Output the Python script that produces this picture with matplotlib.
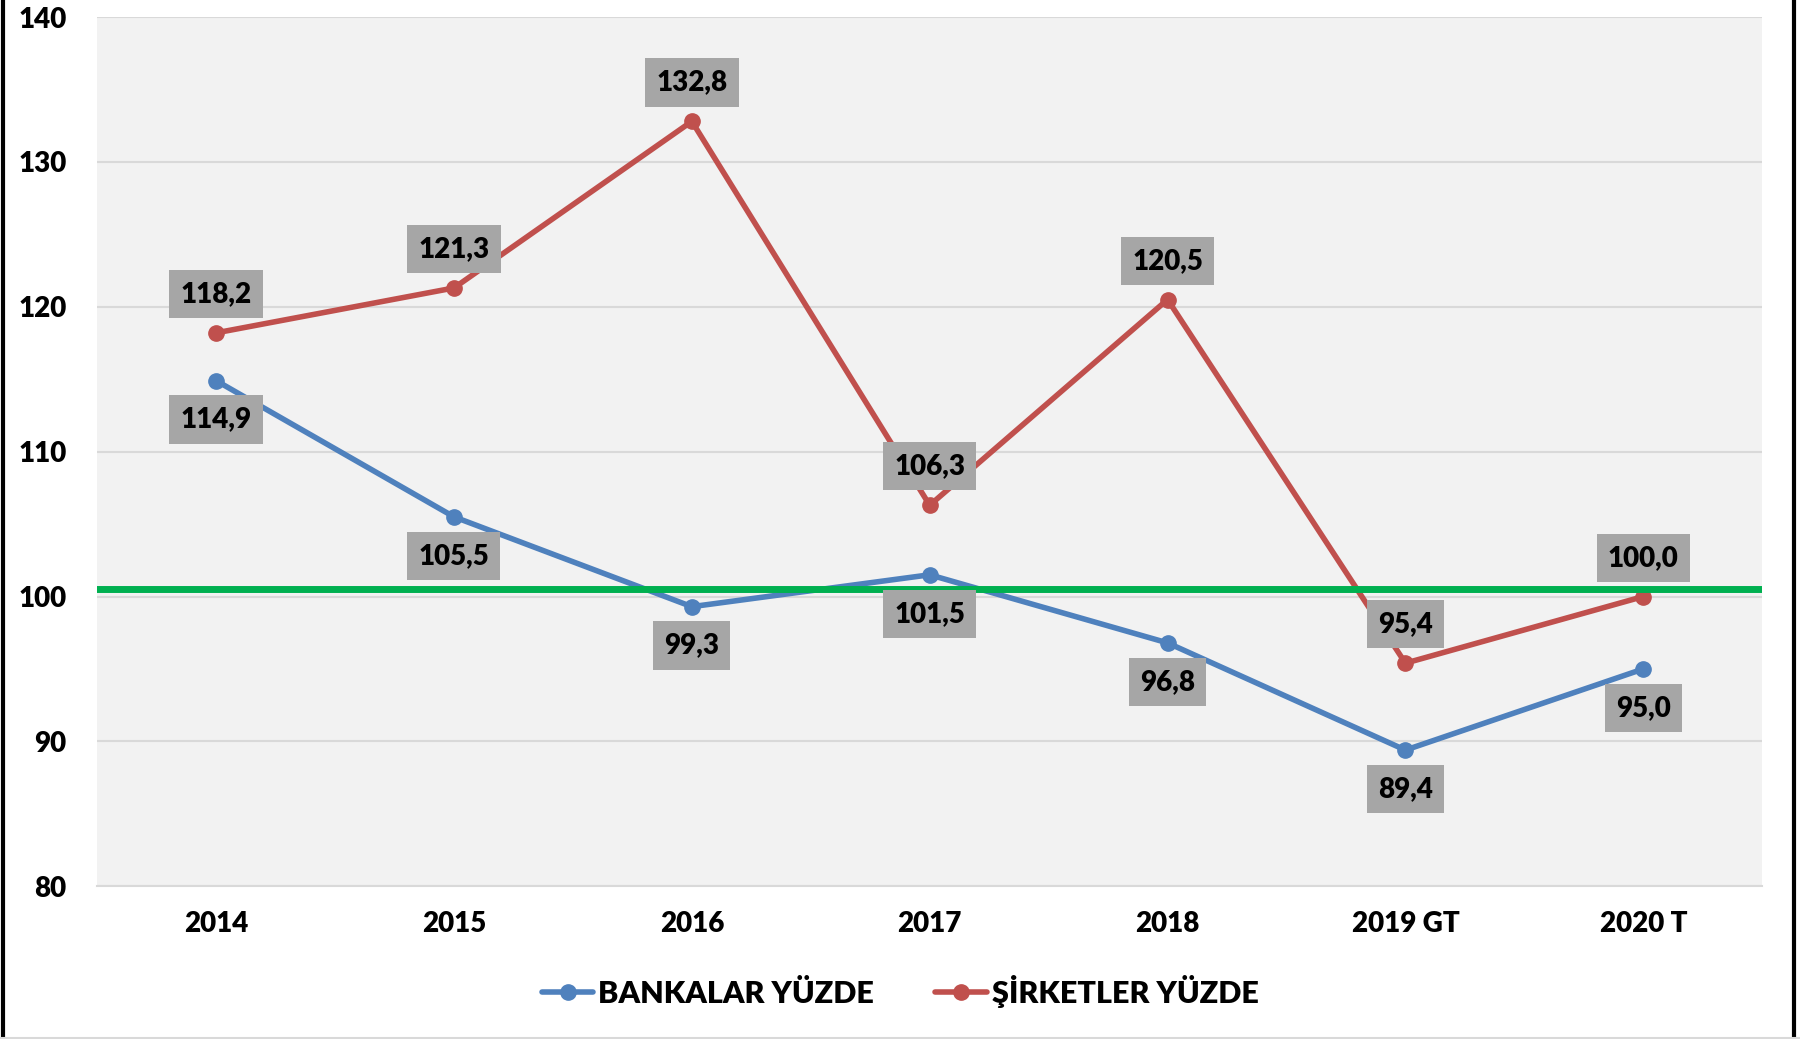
import matplotlib.pyplot as plt
from matplotlib.lines import Line2D

# chart data
years = ["2014", "2015", "2016", "2017", "2018", "2019 GT", "2020 T"]
bankalar = [114.9, 105.5, 99.3, 101.5, 96.8, 89.4, 95.0]
sirketler = [118.2, 121.3, 132.8, 106.3, 120.5, 95.4, 100.0]
ref_level = 100.55
y_ticks = [80, 90, 100, 110, 120, 130, 140]

BLUE = "#4F81BD"
RED = "#C0504D"
GREEN = "#00B050"
WEIGHT = "heavy"

plt.rcParams["font.family"] = ["Lato", "DejaVu Sans"]
plt.rcParams["font.weight"] = WEIGHT

fig = plt.figure(figsize=(18, 10.39), dpi=100)
ax = fig.add_axes([0.054, 0.147, 0.925, 0.8366])
ax.set_facecolor("#F2F2F2")

x = list(range(len(years)))

ax.plot(x, bankalar, color=BLUE, lw=4, marker="o", ms=11,
        label="BANKALAR YÜZDE", zorder=3, solid_capstyle="round")
ax.plot(x, sirketler, color=RED, lw=4, marker="o", ms=11,
        label="ŞİRKETLER YÜZDE", zorder=3, solid_capstyle="round")
ax.axhline(ref_level, color=GREEN, lw=5, zorder=4)


def fmt(v):
    return f"{v:.1f}".replace(".", ",")


box = dict(boxstyle="square,pad=0.4", fc="#A6A6A6", ec="none")
for xi, v in zip(x, sirketler):
    ax.annotate(fmt(v), (xi, v), xytext=(0, 28), textcoords="offset points",
                ha="center", va="center", fontsize=20, fontweight=WEIGHT,
                bbox=box, zorder=5)
for xi, v in zip(x, bankalar):
    ax.annotate(fmt(v), (xi, v), xytext=(0, -28), textcoords="offset points",
                ha="center", va="center", fontsize=20, fontweight=WEIGHT,
                bbox=box, zorder=5)

ax.set_xlim(-0.5, len(years) - 0.5)
ax.set_ylim(80, 140)
ax.set_yticks(y_ticks)
ax.set_xticks(x, labels=years)
ax.grid(axis="y", color="#D9D9D9", lw=1.5, zorder=1)
ax.set_axisbelow(True)
for s in ["top", "right", "left"]:
    ax.spines[s].set_visible(False)
ax.spines["bottom"].set_color("#D9D9D9")
ax.spines["bottom"].set_linewidth(1.5)
ax.tick_params(axis="both", length=0, labelsize=20)
ax.tick_params(axis="y", pad=22)
ax.tick_params(axis="x", pad=18)

fig.legend(loc="center", bbox_to_anchor=(0.5, 0.046), ncol=2, frameon=False,
           handlelength=1.7, columnspacing=2.0, handletextpad=0.15,
           prop={"weight": WEIGHT, "size": 22})

# outer border lines
fig.add_artist(Line2D([0.0015, 0.0015], [0, 1], color="black", lw=3))
fig.add_artist(Line2D([0.9965, 0.9965], [0, 1], color="black", lw=3))
fig.add_artist(Line2D([0, 1], [0.001, 0.001], color="#D9D9D9", lw=1.5))

fig.savefig("out.png", dpi=100)
